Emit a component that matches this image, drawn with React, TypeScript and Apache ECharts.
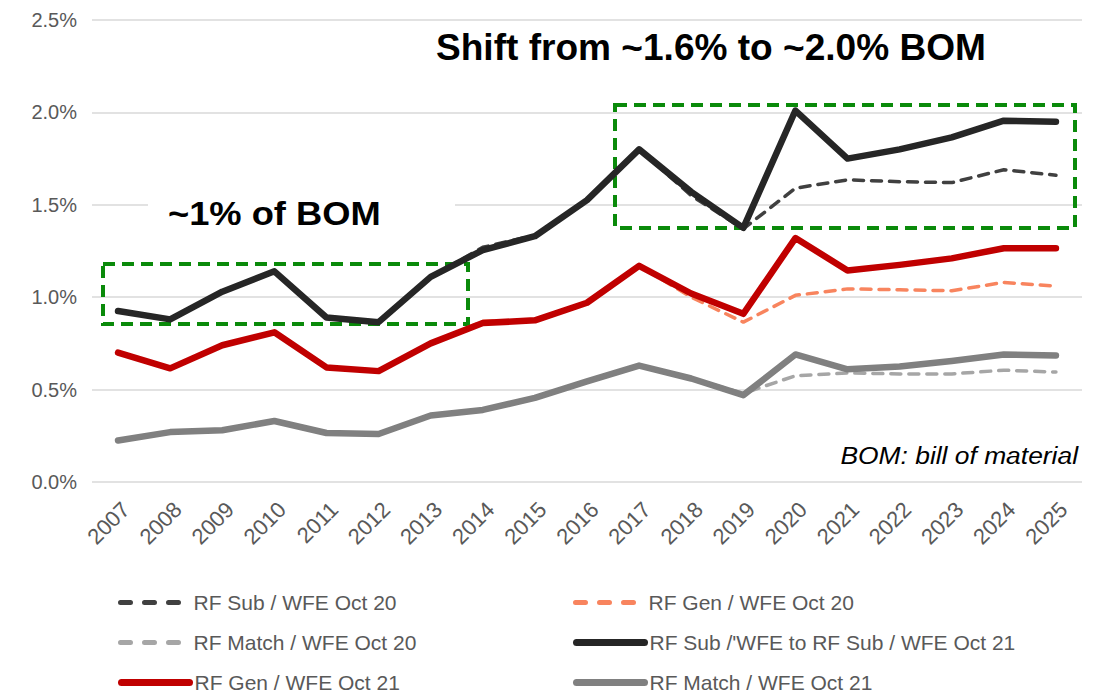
import React, { useEffect, useRef } from "react";
import * as echarts from "echarts";

const years = ["2007","2008","2009","2010","2011","2012","2013","2014","2015","2016","2017","2018","2019","2020","2021","2022","2023","2024","2025"];
const yTicks = [0, 0.5, 1.0, 1.5, 2.0, 2.5];

const subOct20 = [0.925,0.88,1.03,1.14,0.89,0.865,1.11,1.27,1.335,1.525,1.80,1.55,1.37,1.59,1.635,1.625,1.62,1.69,1.66];
const genOct20 = [0.70,0.615,0.74,0.81,0.62,0.60,0.75,0.87,0.875,0.97,1.17,1.00,0.865,1.01,1.045,1.04,1.035,1.08,1.06];
const matchOct20 = [0.225,0.27,0.28,0.33,0.265,0.26,0.36,0.39,0.455,0.545,0.63,0.56,0.48,0.575,0.59,0.585,0.585,0.605,0.595];
const subOct21 = [0.925,0.88,1.03,1.14,0.89,0.865,1.11,1.255,1.33,1.525,1.80,1.57,1.375,2.01,1.75,1.80,1.865,1.955,1.95];
const genOct21 = [0.70,0.615,0.74,0.81,0.62,0.60,0.75,0.86,0.875,0.97,1.17,1.02,0.91,1.32,1.145,1.175,1.21,1.265,1.265];
const matchOct21 = [0.225,0.27,0.28,0.33,0.265,0.26,0.36,0.39,0.455,0.545,0.63,0.56,0.47,0.69,0.61,0.625,0.655,0.69,0.685];

const names = {
  sub20: "RF Sub / WFE Oct 20",
  gen20: "RF Gen / WFE Oct 20",
  match20: "RF Match / WFE Oct 20",
  sub21: "RF Sub /'WFE to RF Sub / WFE Oct 21",
  gen21: "RF Gen / WFE Oct 21",
  match21: "RF Match / WFE Oct 21",
};

// legend layout: [name, column, row, dashed]
const legendLayout: [string, number, number, boolean][] = [
  [names.sub20, 0, 0, true],
  [names.gen20, 1, 0, true],
  [names.match20, 0, 1, true],
  [names.sub21, 1, 1, false],
  [names.gen21, 0, 2, false],
  [names.match21, 1, 2, false],
];

const FONT = "'Liberation Sans', Arial, sans-serif";
const GREEN = "#0A8A0A";

export default function App() {
  const ref = useRef<HTMLDivElement>(null);
  useEffect(() => {
    if (!ref.current) return;
    const chart = echarts.init(ref.current, undefined, { renderer: "svg" });
    const dashed = (name: string, data: number[], color: string) => ({
      name, type: "line", data, symbol: "none", z: 2,
      lineStyle: { color, width: 3.5, type: [10, 8], cap: "round" },
      itemStyle: { color },
    });
    const solid = (name: string, data: number[], color: string) => ({
      name, type: "line", data, symbol: "none", z: 3,
      lineStyle: { color, width: 6.5, cap: "round", join: "round" },
      itemStyle: { color },
    });
    const colLeft = [118, 573];
    const rowTop = [592, 632, 672];
    const legends = legendLayout.map(([name, col, row, isDashed]) => ({
      left: colLeft[col],
      top: rowTop[row],
      padding: 0,
      itemWidth: 68,
      itemHeight: 20,
      itemStyle: { opacity: 0 },
      lineStyle: isDashed
        ? { width: 5, type: [10, 14], cap: "round" }
        : { width: 7, type: "solid", cap: "round" },
      data: [name],
      textStyle: { fontFamily: FONT, fontSize: 21, color: "#595959" },
    }));
    chart.setOption({
      animation: false,
      backgroundColor: "#ffffff",
      textStyle: { fontFamily: FONT },
      grid: { left: 92, right: 24, top: 20, bottom: 211, containLabel: false },
      xAxis: {
        type: "category",
        data: years,
        boundaryGap: true,
        axisLine: { show: false },
        axisTick: { show: false },
        axisLabel: { interval: 0, rotate: 45, margin: 16, fontSize: 22, color: "#595959", fontFamily: FONT, verticalAlign: "top" },
      },
      yAxis: {
        type: "value",
        min: yTicks[0],
        max: yTicks[yTicks.length - 1],
        interval: 0.5,
        axisLine: { show: false },
        axisTick: { show: false },
        splitLine: { lineStyle: { color: "#D9D9D9", width: 1.5 } },
        axisLabel: { margin: 15, fontSize: 20, color: "#595959", fontFamily: FONT, formatter: (v: number) => v.toFixed(1) + "%" },
      },
      legend: legends,
      series: [
        dashed(names.sub20, subOct20, "#404040"),
        dashed(names.gen20, genOct20, "#F8845E"),
        dashed(names.match20, matchOct20, "#A6A6A6"),
        solid(names.match21, matchOct21, "#808080"),
        solid(names.gen21, genOct21, "#C00000"),
        solid(names.sub21, subOct21, "#262626"),
      ],
      graphic: [
        { type: "rect", z: 1, shape: { x: 148, y: 188, width: 307, height: 48 }, style: { fill: "#ffffff" } },
        { type: "rect", z: 1, shape: { x: 103, y: 264, width: 365, height: 60 }, style: { fill: "none", stroke: GREEN, lineWidth: 4, lineDash: [12, 7] } },
        { type: "rect", z: 1, shape: { x: 615, y: 105, width: 460, height: 123 }, style: { fill: "none", stroke: GREEN, lineWidth: 4, lineDash: [12, 7] } },
        { type: "text", z: 10, x: 436, y: 48, scaleX: 1.03, style: { text: "Shift from ~1.6% to ~2.0% BOM", fontFamily: FONT, fontSize: 36, fontWeight: "bold", fill: "#000000", verticalAlign: "middle" } },
        { type: "text", z: 10, x: 168, y: 214, scaleX: 1.1, style: { text: "~1% of BOM", fontFamily: FONT, fontSize: 33, fontWeight: "bold", fill: "#000000", verticalAlign: "middle" } },
        { type: "text", z: 10, x: 1078, y: 455, scaleX: 1.1, style: { text: "BOM: bill of material", fontFamily: FONT, fontSize: 24, fontStyle: "italic", fill: "#000000", align: "right", verticalAlign: "middle" } },
      ],
    });
    return () => chart.dispose();
  }, []);
  return <div ref={ref} style={{ position: "fixed", left: 0, top: 0, width: 1106, height: 693 }} />;
}
